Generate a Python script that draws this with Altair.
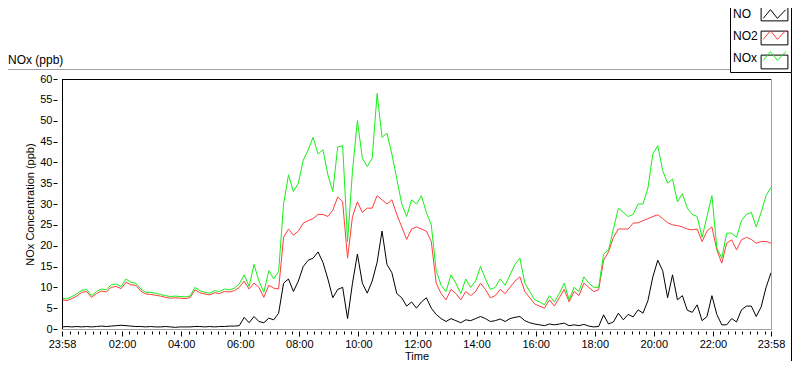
import altair as alt
import pandas as pd

# ---------------- data ----------------
series = ["NO", "NO2", "NOx"]
colors = ["#000000", "#ff3c3c", "#14f014"]
step_minutes = 10  # samples every 10 min starting 23:58

no_values = [
    0.5, 0.6, 0.5, 0.6, 0.5, 0.6, 0.5, 0.6, 0.7, 0.6,
    0.7, 0.8, 0.9, 0.8, 0.7, 0.6, 0.6, 0.5, 0.6, 0.5,
    0.5, 0.6, 0.5, 0.4, 0.5, 0.5, 0.5, 0.6, 0.6, 0.5,
    0.6, 0.5, 0.6, 0.6, 0.7, 0.7, 0.8, 2.8, 1.5, 3.0,
    1.8, 1.5, 2.6, 2.2, 3.8, 11.0, 12.0, 9.0, 11.5, 15.0,
    16.5, 17.0, 18.5, 16.0, 12.0, 7.5, 9.5, 10.0, 2.5, 11.0,
    18.0, 11.0, 8.6, 11.5, 16.0, 23.5, 15.5, 13.5, 8.5, 7.5,
    5.5, 6.5, 5.0, 6.5, 7.5, 5.0, 3.5, 2.5, 1.8, 2.5,
    2.0, 1.5, 2.2, 2.0, 2.5, 3.0, 2.5, 1.8, 2.0, 2.4,
    1.8, 2.5, 2.8, 3.0, 2.0, 1.5, 1.2, 1.0, 0.8, 1.2,
    1.0, 1.2, 1.4, 0.8, 1.0, 0.8, 1.1, 0.7, 0.5, 0.6,
    3.4, 1.2, 1.7, 3.8, 2.2, 3.5, 2.9, 4.6, 3.8, 6.8,
    12.5, 16.5, 14.0, 7.5, 13.0, 7.0, 8.0, 4.5, 4.0, 5.8,
    2.0, 3.0, 8.0, 3.5, 1.0, 1.0, 2.5, 1.7, 4.6, 5.5,
    5.5, 3.0, 5.3, 10.0, 13.5,
]
no2_values = [
    7.0, 6.8, 7.3, 7.9, 8.8, 9.0, 7.6, 8.5, 9.1, 8.9,
    10.0, 10.2, 9.7, 11.2, 10.6, 10.5, 9.1, 8.4, 8.3, 8.1,
    7.9, 7.6, 7.4, 7.5, 7.4, 7.3, 7.5, 9.4, 8.7, 8.4,
    8.2, 8.7, 8.5, 9.0, 8.9, 9.2, 10.0, 11.5, 9.6, 11.0,
    10.0, 7.6, 10.5, 9.8, 9.6, 22.0, 24.0, 22.5, 23.5, 25.4,
    26.0, 26.5, 27.5, 27.5, 27.0, 28.5, 31.7, 30.5, 17.0, 27.0,
    30.5, 28.0, 29.0, 29.0, 32.0, 31.0, 30.0, 31.0, 27.5, 24.5,
    21.5, 24.0, 24.5, 24.0, 23.5, 21.0, 11.0, 8.5, 7.0, 9.5,
    8.5, 7.0, 9.0, 8.0, 9.0, 11.0, 9.5, 7.5, 8.0, 9.5,
    8.5, 10.0, 11.5, 12.5, 9.0, 7.5, 6.0, 5.5, 5.0, 7.0,
    5.5, 7.5, 9.5, 6.5, 9.0, 8.0, 11.0, 10.0, 9.0, 9.4,
    16.5, 18.5, 22.0, 24.0, 24.0, 24.0, 25.4, 25.5, 26.0, 26.5,
    27.0, 27.4, 26.5, 25.5, 25.0, 24.8, 24.5, 24.0, 23.8, 24.0,
    21.0, 23.5, 24.5, 19.0, 15.8, 20.6, 21.4, 19.0, 21.4, 22.0,
    21.5, 20.6, 21.0, 21.0, 20.6,
]
nox_values = [
    7.4, 7.2, 7.8, 8.4, 9.3, 9.5, 8.0, 9.0, 9.6, 9.4,
    10.6, 10.8, 10.2, 12.0, 11.2, 11.0, 9.6, 8.8, 8.8, 8.6,
    8.3, 8.0, 7.8, 7.9, 7.8, 7.7, 7.9, 10.0, 9.2, 8.8,
    8.6, 9.2, 9.0, 9.6, 9.4, 9.8, 10.8, 13.0, 10.2, 15.5,
    11.5, 8.8, 14.0, 12.0, 13.8, 30.0, 37.0, 33.0, 35.0, 40.5,
    43.0, 46.0, 42.0, 43.0, 37.0, 33.0, 43.7, 44.0, 21.0, 38.0,
    50.0, 41.0, 39.0, 41.0, 56.5, 46.0, 47.0, 42.0, 36.0, 30.0,
    27.0, 31.0, 30.0, 32.0, 28.0, 25.0, 14.0, 10.5, 9.0, 13.0,
    11.0, 8.5, 12.0, 10.0, 11.5, 15.0, 12.0, 9.5, 10.0, 12.0,
    10.5, 13.0, 15.5, 17.0, 11.0, 9.0, 7.0, 6.5, 5.8, 8.0,
    6.5, 8.5, 11.0, 7.0, 10.0, 9.0, 12.5, 11.0, 10.0, 10.0,
    18.0, 19.0, 24.0, 29.0, 28.0, 27.0, 27.5, 30.0, 30.0, 33.8,
    42.0, 44.0, 38.0, 35.0, 36.0, 30.5, 32.5, 29.0, 27.5, 27.0,
    22.0, 27.0, 32.0, 19.5, 17.0, 23.0, 23.0, 22.0, 26.0, 27.5,
    28.0, 24.5, 28.0, 32.0, 34.0,
]

tick_values = [0, 122, 242, 362, 482, 602, 722, 842, 962, 1082, 1202, 1322, 1440]
tick_labels = ["23:58", "02:00", "04:00", "06:00", "08:00", "10:00", "12:00",
               "14:00", "16:00", "18:00", "20:00", "22:00", "23:58"]
minor_tick_values = [2 + 15 * k for k in range(1, 96) if (15 * k) % 120 != 0]
y_tick_values = [0, 5, 10, 15, 20, 25, 30, 35, 40, 45, 50, 55, 60]

rows = []
for name, vals in zip(series, [no_values, no2_values, nox_values]):
    for i, v in enumerate(vals):
        rows.append({"minutes": i * step_minutes, "value": v, "series": name})
df = pd.DataFrame(rows)

# ---------------- layout / style ----------------
FONT = "Liberation Sans"
W, H = 709, 250

label_expr = ("[" + ",".join("'%s'" % s for s in tick_labels) + "][indexof(["
              + ",".join(str(v) for v in tick_values) + "], datum.value)]")

x_scale = alt.Scale(domain=[0, 1440], nice=False, zero=False)
y_scale = alt.Scale(domain=[0, 60], nice=False)

y_axis = alt.Axis(values=y_tick_values, offset=5, domain=False, grid=False,
                  tickSize=4, tickColor="#000", labelPadding=1,
                  labelFont=FONT, labelFontSize=11, labelColor="#000",
                  title="NOx Concentration (ppb)", titleFont=FONT,
                  titleFontSize=11, titleFontWeight="normal", titleColor="#000",
                  titlePadding=4)

x_axis_major = alt.Axis(values=tick_values, labelExpr=label_expr, orient="bottom",
                        offset=2, domain=False, grid=False, tickSize=5,
                        tickColor="#000", labelPadding=2, labelFlush=False,
                        labelFont=FONT, labelFontSize=11, labelColor="#000",
                        title="Time", titleFont=FONT, titleFontSize=11,
                        titleFontWeight="normal", titleColor="#000", titlePadding=1)

x_axis_minor = alt.Axis(values=minor_tick_values, labels=False, orient="bottom",
                        offset=2, domain=False, grid=False, tickSize=3,
                        tickColor="#000", title=None)

zig_path = "M-1.55,0.6L-0.55,-0.6L0.4,0.6L1.55,-0.6"
box_path = "M-1.85,-0.95L1.85,-0.95L1.85,0.95L-1.85,0.95Z"

# legend keys for the swatch legends (kept distinct so legends are not merged)
zig_keys = [s + " z" for s in series]
box_keys = [s + " b" for s in series]

legend_common = dict(orient="none", legendY=-73, title=None, symbolSize=210,
                     padding=0, labelFont=FONT, labelFontSize=12, labelColor="#000")

# label legend (symbols hidden)
lines = alt.Chart(df).mark_line(strokeWidth=1).encode(
    x=alt.X("minutes:Q", scale=x_scale, axis=x_axis_major),
    y=alt.Y("value:Q", scale=y_scale, axis=y_axis),
    color=alt.Color("series:N", scale=alt.Scale(domain=series, range=colors),
                    legend=alt.Legend(symbolOpacity=0, symbolStrokeWidth=1,
                                      legendX=655, symbolOffset=0, labelOffset=0,
                                      rowPadding=8, **legend_common)),
)

# invisible layer carrying the swatches (zigzag line + frame)
swatches = alt.Chart(df).mark_point(opacity=0, filled=False).transform_calculate(
    kz="datum.series + ' z'", kb="datum.series + ' b'"
).encode(
    x=alt.X("minutes:Q", scale=x_scale, axis=x_axis_minor),
    y=alt.Y("value:Q", scale=y_scale, axis=y_axis),
    stroke=alt.Stroke("kz:N", scale=alt.Scale(domain=zig_keys, range=colors),
                      legend=alt.Legend(symbolType=zig_path, symbolStrokeWidth=1,
                                        symbolFillColor="transparent", symbolOpacity=1,
                                        legendX=673, symbolOffset=31.5,
                                        labelExpr="' '", labelOpacity=0,
                                        rowPadding=6, **legend_common)),
    shape=alt.Shape("kb:N", scale=alt.Scale(domain=box_keys, range=[box_path] * 3),
                    legend=alt.Legend(symbolStrokeColor="#000", symbolStrokeWidth=1,
                                      symbolFillColor="transparent", symbolOpacity=1,
                                      legendX=673, symbolOffset=31.5,
                                      labelExpr="' '", labelOpacity=0,
                                      rowPadding=6, **legend_common)),
)

dummy = pd.DataFrame({"d": [0]})


def rule(x, y, x2=None, y2=None, color="#000", width=1):
    enc = dict(x=alt.value(x), y=alt.value(y))
    if x2 is not None:
        enc["x2"] = alt.value(x2)
    if y2 is not None:
        enc["y2"] = alt.value(y2)
    return alt.Chart(dummy).mark_rule(color=color, strokeWidth=width).encode(**enc)


legend_box = alt.Chart(dummy).mark_rect(fill="white", stroke="#000", strokeWidth=1).encode(
    x=alt.value(668.5), x2=alt.value(729.5), y=alt.value(-90), y2=alt.value(-6.5))

graph_label = alt.Chart(dummy).mark_text(align="left", baseline="middle", font=FONT,
                                          fontSize=12, color="#000").encode(
    x=alt.value(-54), y=alt.value(-19), text=alt.value("NOx (ppb)"))

decor = [
    rule(-54, -9.5, x2=668.5, color="#a0a0a0"),      # outer top
    rule(729.5, -6.5, y2=282, color="#000"),         # outer right
    legend_box,
    graph_label,
]
frame = [
    rule(0, 0.5, x2=W, color="#000"),
    rule(0.5, 0, y2=H, color="#000"),
    rule(W + 0.5, 0, y2=H + 1, color="#a0a0a0"),
    rule(0, H + 0.5, x2=W + 1, color="#a0a0a0"),
]

chart = alt.layer(*decor, lines, swatches, *frame).resolve_axis(
    x="independent"
).properties(
    width=W, height=H,
    autosize=alt.AutoSizeParams(type="none"),
    padding={"left": 54, "top": 71, "right": 21, "bottom": 32},
    background="white",
).configure_view(stroke=None)

chart.save("out.html", embed_options={"renderer": "svg", "actions": False})
